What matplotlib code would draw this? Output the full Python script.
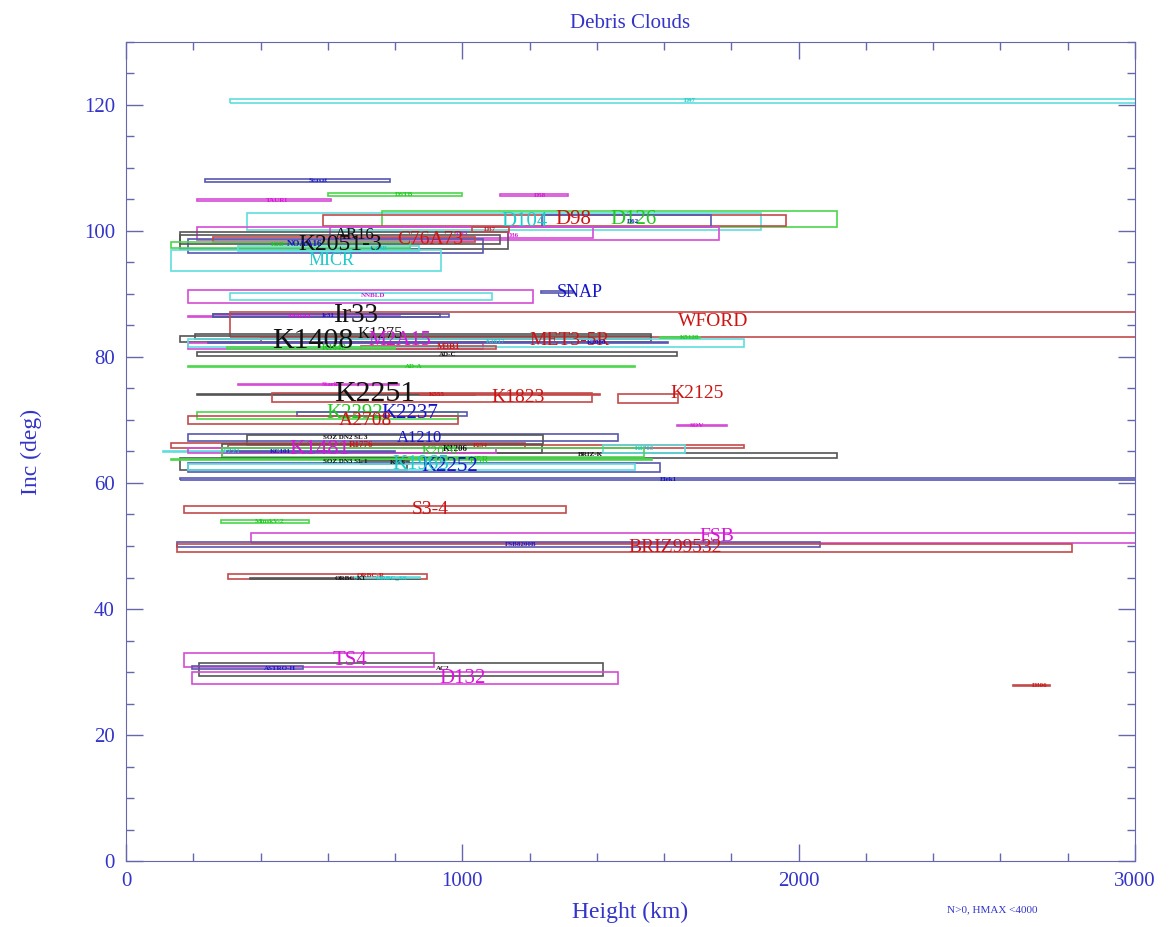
import numpy as np
import matplotlib
matplotlib.use("Agg")
from matplotlib import pyplot as plt
from matplotlib.patches import Rectangle
from matplotlib.ticker import MultipleLocator

plt.rcParams['font.family'] = ['Liberation Serif', 'DejaVu Serif']

# one entry per debris cloud: name, height range (km), inclination range (deg),
# where its label sits, number of pieces, colour group
names = ["D97", "Seasat", "DSTB", "TAURI", "D58", "D104", "D126", "D98", "D62", "D36",
         "D35", "K2051-3", "NOAA16", "C76A73", "AR16", "K1B", "CZ4B", "D37", "MICR", "NNBLD",
         "", "SNAP", "NNRA4", "Ir33", "Ir31", "WFORD", "K1408", "K1275", "M2A15", "MET3-5R",
         "K1617", "K2080", "K5120", "AD-C", "AD-A", "M3B1", "K1642", "Stark", "K2251", "K555",
         "K1823", "K2125", "K2292", "K2237", "A2708", "SOV", "A1210", "SOZ DN2 SL 3", "R1776", "P254",
         "K1206", "BRIZ-K", "CZZ1", "K1481", "KC101", "K1703", "K2070", "SOZ DN3 SL 1", "K5R", "K2252",
         "K996", "K1965", "Elek1", "S3-4", "MinskV-2", "FSB", "FSB8200B", "BRIZ99532", "ORBC-R", "ORBC-KI",
         "ORBC_SS", "TS4", "AC2", "ASTRO-H", "D132", "D306"]
hmin = [309, 235, 600, 211, 1112, 360, 761, 586, 1237, 211,
        607, 160, 184, 259, 160, 134, 333, 1030, 134, 184,
        309, 1234, 184, 259, 259, 309, 160, 205, 184, 400,
        184, 244, 1588, 211, 184, 700, 300, 333, 211, 874,
        434, 1463, 211, 508, 184, 1638, 184, 360, 134, 303,
        285, 285, 110, 184, 300, 1418, 285, 160, 134, 184,
        700, 184, 160, 172, 282, 372, 152, 152, 303, 369,
        681, 172, 217, 196, 196, 2638]
hmax = [3300, 785, 1000, 610, 1314, 1888, 2114, 1962, 1740, 1763,
        1389, 1136, 1062, 1038, 1112, 845, 870, 1140, 937, 1210,
        1088, 1329, 815, 934, 960, 3300, 1561, 1561, 1062, 1400,
        1838, 1612, 1707, 1638, 1513, 1100, 800, 812, 1038, 1410,
        1386, 1641, 987, 1014, 987, 1787, 1463, 1240, 1187, 1838,
        1237, 2114, 517, 1100, 800, 1662, 1540, 836, 1564, 1588,
        840, 1513, 3300, 1308, 544, 3300, 2064, 2813, 895, 874,
        874, 916, 1418, 526, 1463, 2748]
imin = [120.3, 107.8, 105.6, 104.8, 105.6, 100.2, 100.7, 100.8, 100.7, 98.5,
        98.9, 97.2, 96.5, 98.3, 98.0, 97.3, 96.9, 99.9, 93.7, 88.5,
        89.0, 90.2, 86.3, 86.4, 86.3, 83.2, 82.4, 82.9, 81.2, 82.4,
        81.6, 82.2, 83.0, 80.2, 78.4, 81.2, 81.2, 75.5, 73.9, 73.9,
        72.9, 72.7, 70.2, 70.7, 69.3, 69.0, 66.7, 66.0, 65.5, 65.5,
        64.8, 64.0, 64.9, 64.8, 64.9, 64.8, 64.2, 62.1, 63.6, 61.8,
        63.0, 62.0, 60.5, 55.3, 53.7, 50.4, 49.9, 49.1, 44.7, 44.8,
        44.9, 30.8, 29.3, 30.4, 28.1, 27.7]
imax = [121.0, 108.2, 106.1, 105.0, 105.8, 102.8, 103.2, 102.6, 102.6, 100.6,
        100.7, 99.9, 98.8, 99.1, 99.4, 98.3, 97.6, 100.6, 97.0, 90.7,
        90.2, 90.5, 86.5, 86.9, 86.9, 87.2, 83.4, 83.7, 82.3, 83.0,
        82.8, 82.4, 83.2, 80.8, 78.6, 81.8, 81.6, 75.7, 74.2, 74.2,
        74.3, 74.2, 71.3, 71.3, 70.6, 69.2, 67.7, 67.6, 66.4, 66.1,
        66.2, 64.8, 65.1, 65.6, 65.1, 66.0, 65.5, 64.0, 63.8, 63.2,
        63.5, 63.0, 60.8, 56.3, 54.2, 52.0, 50.6, 50.3, 45.5, 45.0,
        45.1, 33.0, 31.5, 30.9, 30.0, 27.9]
hlab = [1677, 571, 827, 449, 1231, 1186, 1508, 1329, 1508, 1150,
        1000, 636, 530, 904, 681, 450, 750, 1082, 612, 734,
        700, 1350, 517, 681, 600, 1746, 555, 755, 815, 1320,
        1100, 1400, 1677, 957, 856, 960, 620, 607, 740, 925,
        1166, 1698, 681, 845, 711, 1697, 874, 651, 700, 1053,
        980, 1380, 315, 577, 458, 1543, 934, 651, 1050, 963,
        809, 875, 1612, 904, 428, 1757, 1172, 1633, 726, 666,
        790, 666, 943, 458, 1002, 2718]
ilab = [120.65, 108.0, 105.85, 104.9, 105.7, 101.5, 101.8, 101.8, 101.5, 99.3,
        99.6, 97.8, 97.9, 98.6, 99.3, 97.8, 97.2, 100.3, 95.3, 89.7,
        89.6, 90.3, 86.5, 86.6, 86.6, 85.6, 82.6, 83.7, 82.6, 82.6,
        82.5, 82.3, 83.1, 80.4, 78.5, 81.6, 81.4, 75.6, 74.2, 74.1,
        73.6, 74.2, 71.0, 71.0, 69.9, 69.1, 67.2, 67.2, 66.0, 66.0,
        65.4, 64.5, 65.0, 65.3, 65.0, 65.4, 65.0, 63.4, 63.6, 62.6,
        63.3, 62.9, 60.6, 55.8, 53.95, 51.5, 50.2, 49.8, 45.3, 44.9,
        45.0, 31.9, 30.6, 30.6, 29.0, 27.8]
npieces = [10, 10, 10, 10, 10, 210, 210, 210, 10, 10,
           10, 250, 40, 190, 150, 10, 10, 10, 170, 10,
           0, 170, 10, 300, 10, 190, 340, 150, 200, 190,
           10, 10, 10, 10, 10, 40, 40, 10, 340, 10,
           190, 190, 210, 210, 190, 10, 150, 10, 40, 10,
           40, 10, 10, 230, 10, 10, 100, 10, 60, 210,
           10, 210, 10, 190, 10, 190, 10, 190, 10, 10,
           10, 210, 10, 10, 210, 10]
group = ['c', 'b', 'g', 'm', 'm', 'c', 'g', 'r', 'b', 'm',
         'm', 'k', 'b', 'r', 'k', 'g', 'c', 'r', 'c', 'm',
         'c', 'b', 'm', 'k', 'b', 'r', 'k', 'k', 'm', 'r',
         'c', 'b', 'g', 'k', 'g', 'r', 'g', 'm', 'k', 'r',
         'r', 'r', 'g', 'b', 'r', 'm', 'b', 'k', 'r', 'r',
         'k', 'k', 'c', 'm', 'b', 'c', 'g', 'k', 'g', 'b',
         'k', 'c', 'b', 'r', 'g', 'm', 'b', 'r', 'r', 'k',
         'c', 'm', 'k', 'b', 'm', 'r']

edge = {'c': '#5fdede', 'r': '#c24a4a', 'g': '#4cd64c', 'm': '#d64cd6', 'b': '#5858b0', 'k': '#555555'}
ink = {'c': '#1fcaca', 'r': '#cc1414', 'g': '#1ec81e', 'm': '#d814d8', 'b': '#1414c8', 'k': '#111111'}
AXCOL = '#6666aa'
TXTCOL = '#3434c8'

fig = plt.figure(figsize=(11.73, 9.27), dpi=100)
ax = fig.add_axes([126/1173, 66/927, 1009/1173, 819/927])

for k in range(len(names)):
    c = group[k]
    ax.add_patch(Rectangle((hmin[k], imin[k]), hmax[k]-hmin[k], imax[k]-imin[k],
                           fill=False, edgecolor=edge[c], lw=1.2, zorder=2))
for k in range(len(names)):
    if names[k] == "":
        continue
    fs = 4.5 + npieces[k]/20.
    ax.text(hlab[k], ilab[k], names[k], color=ink[group[k]], fontsize=fs,
            ha='center', va='center', zorder=3, clip_on=True,
            fontweight='bold' if fs < 7 else 'normal')

ax.set_xlim(0, 3000)
ax.set_ylim(0, 130)
ax.xaxis.set_major_locator(MultipleLocator(1000))
ax.xaxis.set_minor_locator(MultipleLocator(200))
ax.yaxis.set_major_locator(MultipleLocator(20))
ax.yaxis.set_minor_locator(MultipleLocator(5))
ax.tick_params(which='both', direction='in', top=True, right=True, colors=AXCOL,
               labelcolor=TXTCOL, labelsize=15)
ax.tick_params(which='major', length=12, width=1, pad=8)
ax.tick_params(which='minor', length=6, width=1)
for s in ax.spines.values():
    s.set_color(AXCOL)

ax.set_title("Debris Clouds", color=TXTCOL, fontsize=15, pad=10)
ax.set_xlabel("Height (km)", color=TXTCOL, fontsize=17, labelpad=8)
ax.set_ylabel("Inc (deg)", color=TXTCOL, fontsize=17, labelpad=30)
fig.text(992/1173, 1-910/927, "N>0, HMAX <4000", color=TXTCOL, fontsize=8,
         ha='center', va='center')

fig.savefig("out.png", dpi=100)
